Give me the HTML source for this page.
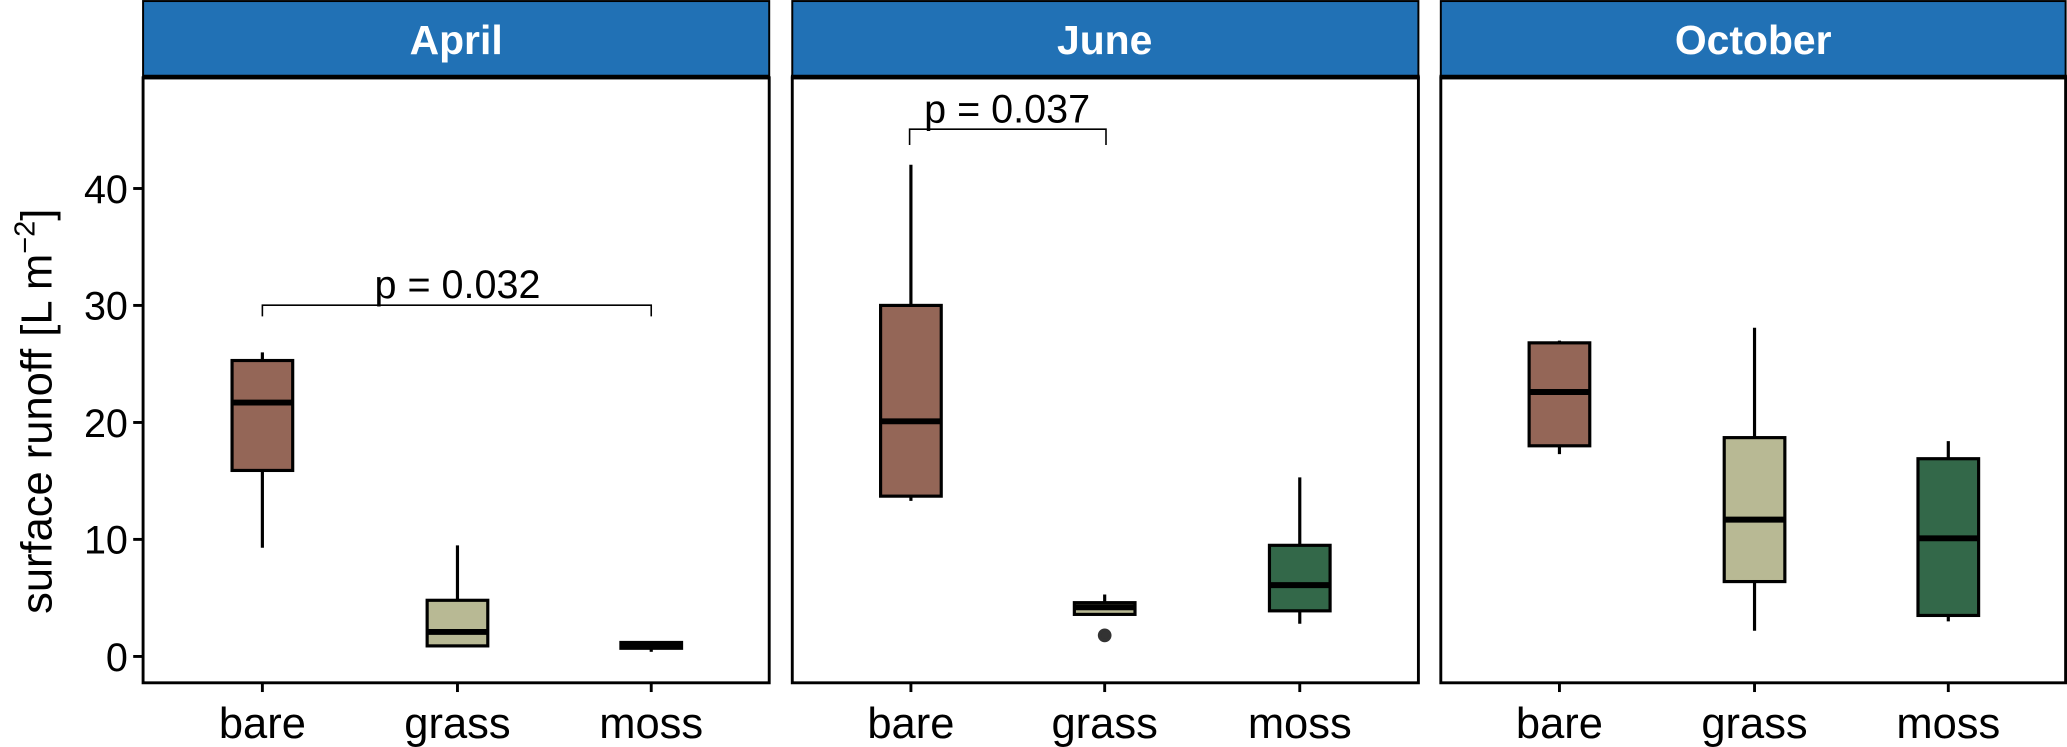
<!DOCTYPE html>
<html><head><meta charset="utf-8"><style>html,body{margin:0;padding:0;background:#fff}svg{display:block}</style></head>
<body>
<svg width="2067" height="747" viewBox="0 0 1568 566.7" xmlns="http://www.w3.org/2000/svg" font-family="Liberation Sans, Arial, sans-serif">
<rect width="1568" height="567" fill="#fff"/>
<g stroke="#000" stroke-width="1.5">
<rect x="108.5" y="0.8" width="475" height="57" fill="#2171b5"/>
<rect x="601" y="0.8" width="475" height="57" fill="#2171b5"/>
<rect x="1093" y="0.8" width="474" height="57" fill="#2171b5"/>
</g>
<g stroke="#000" stroke-width="3.5">
<line x1="108" y1="58.5" x2="584" y2="58.5"/><line x1="600" y1="58.5" x2="1077" y2="58.5"/><line x1="1092" y1="58.5" x2="1568" y2="58.5"/>
</g>
<g fill="#fff" font-weight="bold" font-size="31" text-anchor="middle">
<text x="346" y="41">April</text><text x="838" y="41">June</text><text x="1330" y="41">October</text>
</g>
<g fill="none" stroke="#000" stroke-width="2.2">
<rect x="108.5" y="59" width="475" height="459"/>
<rect x="601" y="59" width="475" height="459"/>
<rect x="1093" y="59" width="474" height="459"/>
</g>
<g stroke="#000" stroke-width="2.2">
<line x1="101" x2="108" y1="143" y2="143"/><line x1="101" x2="108" y1="231.7" y2="231.7"/><line x1="101" x2="108" y1="320.5" y2="320.5"/><line x1="101" x2="108" y1="409.2" y2="409.2"/><line x1="101" x2="108" y1="498" y2="498"/>
<line x1="199" x2="199" y1="518" y2="525"/><line x1="347" x2="347" y1="518" y2="525"/><line x1="494" x2="494" y1="518" y2="525"/>
<line x1="691" x2="691" y1="518" y2="525"/><line x1="838" x2="838" y1="518" y2="525"/><line x1="986" x2="986" y1="518" y2="525"/>
<line x1="1183" x2="1183" y1="518" y2="525"/><line x1="1331" x2="1331" y1="518" y2="525"/><line x1="1478" x2="1478" y1="518" y2="525"/>
</g>
<g font-size="30" text-anchor="end" fill="#000">
<text x="97" y="154">40</text><text x="97" y="242.5">30</text><text x="97" y="331.5">20</text><text x="97" y="420">10</text><text x="97" y="509">0</text>
</g>
<g font-size="33" text-anchor="middle" fill="#000">
<text x="199" y="560">bare</text><text x="347" y="560">grass</text><text x="494" y="560">moss</text>
<text x="691" y="560">bare</text><text x="838" y="560">grass</text><text x="986" y="560">moss</text>
<text x="1183" y="560">bare</text><text x="1331" y="560">grass</text><text x="1478" y="560">moss</text>
</g>
<text transform="translate(39,312) rotate(-90)" font-size="33" text-anchor="middle">surface runoff [L m<tspan dy="-13" font-size="22">−2</tspan><tspan dy="13">]</tspan></text>
<g stroke="#000" stroke-width="2.4">
<line x1="199" x2="199" y1="415.5" y2="267.3"/>
<rect x="176" y="273.5" width="46" height="83.4" fill="#946657"/>
<line x1="176" x2="222" y1="305.4" y2="305.4" stroke-width="4.5"/>
<line x1="347" x2="347" y1="490.9" y2="413.7"/>
<rect x="324" y="455.4" width="46" height="34.6" fill="#b8b994"/>
<line x1="324" x2="370" y1="479.4" y2="479.4" stroke-width="4.5"/>
<line x1="494" x2="494" y1="494.5" y2="487.4"/>
<rect x="471" y="487.4" width="46" height="4.4" fill="#336849"/>
<line x1="471" x2="517" y1="489.1" y2="489.1" stroke-width="4.5"/>
<line x1="691" x2="691" y1="380" y2="125"/>
<rect x="668" y="231.7" width="46" height="144.7" fill="#946657"/>
<line x1="668" x2="714" y1="319.6" y2="319.6" stroke-width="4.5"/>
<line x1="838" x2="838" y1="466" y2="451"/>
<rect x="815" y="457.2" width="46" height="8.9" fill="#b8b994"/>
<line x1="815" x2="861" y1="460.7" y2="460.7" stroke-width="4.5"/>
<circle cx="838" cy="482" r="4" fill="#333" stroke="#333"/>
<line x1="986" x2="986" y1="473.2" y2="362.2"/>
<rect x="963" y="413.7" width="46" height="49.7" fill="#336849"/>
<line x1="963" x2="1009" y1="443.9" y2="443.9" stroke-width="4.5"/>
<line x1="1183" x2="1183" y1="344.5" y2="258.4"/>
<rect x="1160" y="260.1" width="46" height="78.1" fill="#946657"/>
<line x1="1160" x2="1206" y1="297.4" y2="297.4" stroke-width="4.5"/>
<line x1="1331" x2="1331" y1="478.5" y2="248.6"/>
<rect x="1308" y="332" width="46" height="109.2" fill="#b8b994"/>
<line x1="1308" x2="1354" y1="394.2" y2="394.2" stroke-width="4.5"/>
<line x1="1478" x2="1478" y1="471.4" y2="334.7"/>
<rect x="1455" y="348" width="46" height="118.9" fill="#336849"/>
<line x1="1455" x2="1501" y1="408.4" y2="408.4" stroke-width="4.5"/>
</g>
<g fill="none" stroke="#000" stroke-width="1.2">
<polyline points="199,240 199,231.5 494,231.5 494,240"/>
<polyline points="690,110 690,98 839,98 839,110"/>
</g>
<g font-size="30" text-anchor="middle" fill="#000">
<text x="347" y="226">p = 0.032</text>
<text x="764" y="93">p = 0.037</text>
</g>
</svg>
</body></html>
